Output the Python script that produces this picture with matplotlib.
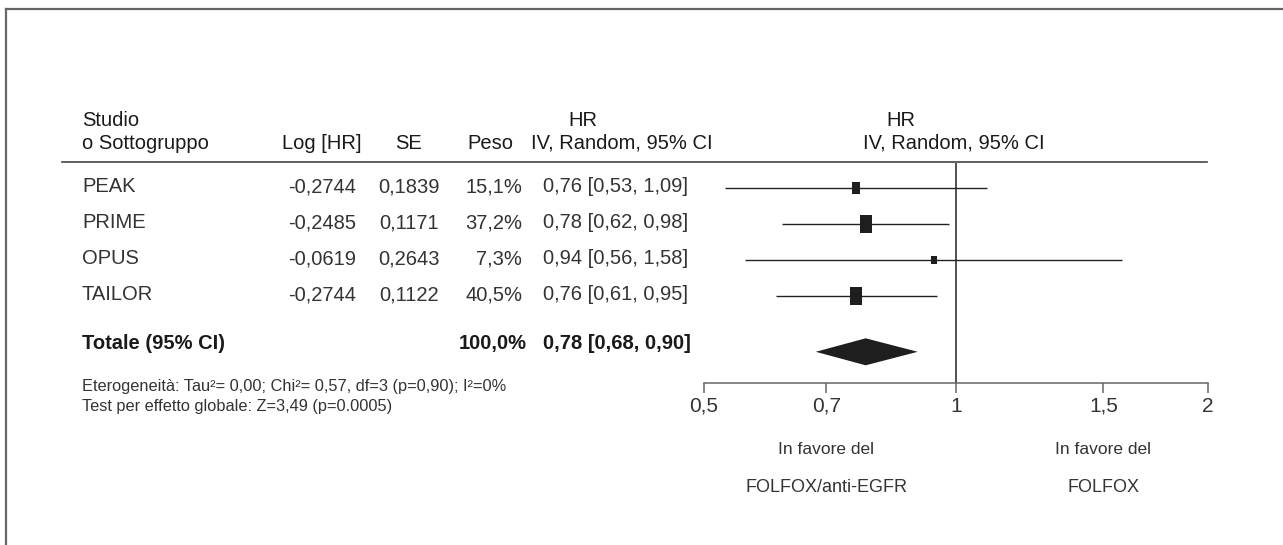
import matplotlib.pyplot as plt
import matplotlib.transforms as mtransforms
from matplotlib.lines import Line2D
from matplotlib.patches import Polygon
from matplotlib.path import Path
from matplotlib.ticker import FixedLocator, FixedFormatter, NullLocator
import numpy as np

# data
studies = ['PEAK', 'PRIME', 'OPUS', 'TAILOR']
log_hr = [-0.2744, -0.2485, -0.0619, -0.2744]
se = [0.1839, 0.1171, 0.2643, 0.1122]
weight = [15.1, 37.2, 7.3, 40.5]
hr = [0.76, 0.78, 0.94, 0.76]
ci_low = [0.53, 0.62, 0.56, 0.61]
ci_high = [1.09, 0.98, 1.58, 0.95]

total_label = 'Totale (95% CI)'
total_weight = 100.0
total_hr = 0.78
total_low = 0.68
total_high = 0.90

tick_values = [0.5, 0.7, 1, 1.5, 2]
tick_labels = ['0,5', '0,7', '1', '1,5', '2']
heterogeneity = 'Eterogeneità: Tau²= 0,00; Chi²= 0,57, df=3 (p=0,90); I²=0%'
overall_test = 'Test per effetto globale: Z=3,49 (p=0.0005)'
favours = [(0.7, 'In favore del', 'FOLFOX/anti-EGFR'), (1.5, 'In favore del', 'FOLFOX')]

plt.rcParams['font.family'] = ['Liberation Sans', 'DejaVu Sans']

W, H = 1283, 545
fig = plt.figure(figsize=(W / 100, H / 100), dpi=100)


def fx(x):
    return x / W


def fy(y):
    return 1 - y / H


def it(v, fmt):
    return format(v, fmt).replace('.', ',')


# frame of the page
fig.add_artist(Line2D([fx(6), 1], [fy(9), fy(9)], color='#666666', lw=1.6))
fig.add_artist(Line2D([fx(6), fx(6)], [fy(9), 0], color='#666666', lw=1.6))

# forest axes (rows are 0..3, total row below)
top, bottom, step, first = 163, 383, 36, 188
ax = fig.add_axes([fx(704), fy(bottom), (1208 - 704) / W, (bottom - top) / H])
ax.set_xscale('log')
ax.set_xlim(0.5, 2)
ax.set_ylim((bottom - first) / step, (top - first) / step)
ax.patch.set_visible(False)
for s in ['top', 'left', 'right']:
    ax.spines[s].set_visible(False)
ax.spines['bottom'].set_color('#666666')
ax.spines['bottom'].set_linewidth(1.1)
ax.set_yticks([])
ax.xaxis.set_major_locator(FixedLocator(tick_values))
ax.xaxis.set_major_formatter(FixedFormatter(tick_labels))
ax.xaxis.set_minor_locator(NullLocator())
ax.tick_params(axis='x', direction='out', length=7, width=1.1, color='#666666',
               labelsize=15, labelcolor='#333333', pad=3)

ax.axvline(1, color='#222222', lw=1.1)

rows = np.arange(len(studies))
total_y = 4.55
total_text_y = 4.33

box = Path([(-0.7, -1), (0.7, -1), (0.7, 1), (-0.7, 1), (-0.7, -1)],
           [Path.MOVETO, Path.LINETO, Path.LINETO, Path.LINETO, Path.CLOSEPOLY])
for y, h, lo, hi, w in zip(rows, hr, ci_low, ci_high, weight):
    ax.plot([lo, hi], [y, y], color='#222222', lw=1.0, solid_capstyle='butt')
    ax.plot(h, y, marker=box, markersize=2.05 * np.sqrt(w), color='#1e1e1e', mew=0)

dh = 0.375
ax.add_patch(Polygon([(total_low, total_y), (total_hr, total_y - dh),
                      (total_high, total_y), (total_hr, total_y + dh)],
                     closed=True, color='#1e1e1e', lw=0))

# table text
tr = mtransforms.blended_transform_factory(fig.transFigure, ax.transData)
txt = dict(transform=tr, fontsize=14.5, color='#333333', va='center')
for y, name, lh, s, w, h, lo, hi in zip(rows, studies, log_hr, se, weight, hr, ci_low, ci_high):
    y = y - 0.03
    fig.text(fx(82), y, name, ha='left', **txt)
    fig.text(fx(322), y, it(lh, '.4f'), ha='center', **txt)
    fig.text(fx(409), y, it(s, '.4f'), ha='center', **txt)
    fig.text(fx(522), y, it(w, '.1f') + '%', ha='right', **txt)
    fig.text(fx(543), y, f'{it(h, ".2f")} [{it(lo, ".2f")}, {it(hi, ".2f")}]', ha='left', **txt)

bold = dict(txt, color='#1a1a1a', fontweight='bold')
fig.text(fx(82), total_text_y, total_label, ha='left', **bold)
fig.text(fx(527), total_text_y, it(total_weight, '.1f') + '%', ha='right', **bold)
fig.text(fx(543), total_text_y,
         f'{it(total_hr, ".2f")} [{it(total_low, ".2f")}, {it(total_high, ".2f")}]',
         ha='left', **bold)

# headers
hd = dict(fontsize=14.5, color='#1a1a1a', va='center')
fig.text(fx(82), fy(120), 'Studio', ha='left', **hd)
fig.text(fx(82), fy(143), 'o Sottogruppo', ha='left', **hd)
fig.text(fx(322), fy(143), 'Log [HR]', ha='center', **hd)
fig.text(fx(409), fy(143), 'SE', ha='center', **hd)
fig.text(fx(513), fy(143), 'Peso', ha='right', **hd)
fig.text(fx(583), fy(120), 'HR', ha='center', **hd)
fig.text(fx(531), fy(143), 'IV, Random, 95% CI', ha='left', **hd)
fig.text(fx(901), fy(120), 'HR', ha='center', **hd)
fig.text(fx(954), fy(143), 'IV, Random, 95% CI', ha='center', **hd)
fig.add_artist(Line2D([fx(62), fx(1207)], [fy(162), fy(162)], color='#444444', lw=1.2))

# footnotes
ft = dict(fontsize=11.8, color='#333333', va='center', ha='left')
fig.text(fx(82), fy(386), heterogeneity, **ft)
fig.text(fx(82), fy(407), overall_test, **ft)

# favour labels
trx = mtransforms.blended_transform_factory(ax.transData, fig.transFigure)
for xv, l1, l2 in favours:
    fig.text(xv, fy(450), l1, transform=trx, ha='center', va='center',
             fontsize=12.5, color='#333333')
    fig.text(xv, fy(488), l2, transform=trx, ha='center', va='center',
             fontsize=13, color='#333333')

fig.savefig('out.png', dpi=100)
